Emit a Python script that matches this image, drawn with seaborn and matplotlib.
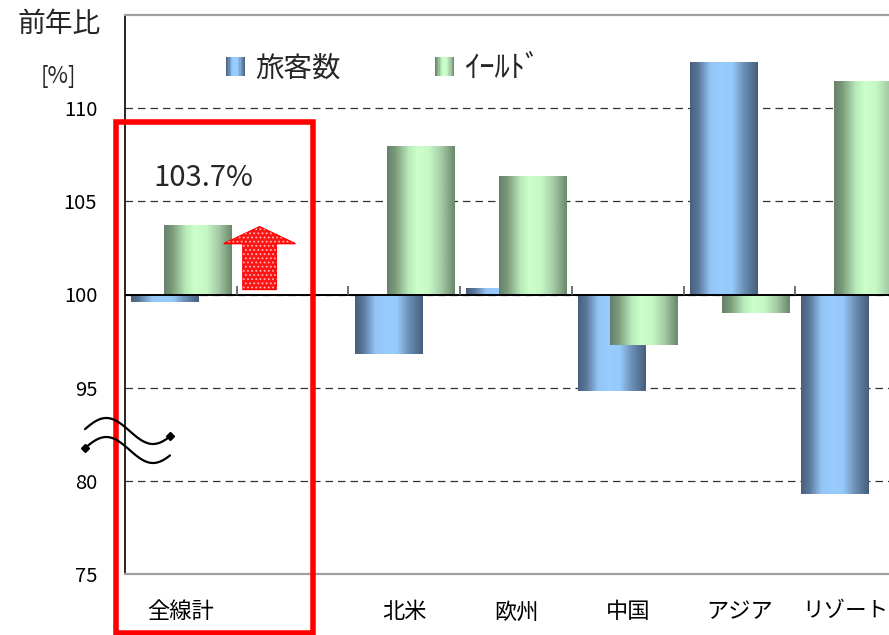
import numpy as np
import pandas as pd
import matplotlib
matplotlib.use("Agg")
import matplotlib.pyplot as plt
import seaborn as sns
from matplotlib.colors import LinearSegmentedColormap
from matplotlib.patches import Rectangle, Patch, FancyArrow
from matplotlib.lines import Line2D
from matplotlib.legend_handler import HandlerBase
from matplotlib.transforms import ScaledTranslation

# 前年比 [%] (値は画像から読み取り)
categories = ['全線計', '', '北米', '欧州', '中国', 'アジア', 'リゾート']
passengers = [99.6, None, 96.8, 100.3, 94.8, 112.4, 79.3]
yields = [103.7, None, 107.9, 106.3, 97.3, 99.0, 111.4]
series_names = ['旅客数', 'ｲｰﾙﾄﾞ']
ytick_values = [75, 80, 95, 100, 105, 110]
highlight_label = '103.7%'

sns.set_theme(style='white')
plt.rcParams['font.family'] = ['Noto Sans CJK JP', 'DejaVu Sans']
plt.rcParams['hatch.linewidth'] = 0.8

blue_cmap = LinearSegmentedColormap.from_list('blue_bar', [
    (0.0, '#485f7c'), (0.12, '#5a7899'), (0.3, '#92c4f5'), (0.45, '#99ccff'),
    (0.62, '#97c9fb'), (0.78, '#6f93ba'), (1.0, '#465e7b')])
green_cmap = LinearSegmentedColormap.from_list('green_bar', [
    (0.0, '#66806a'), (0.12, '#7a9a7a'), (0.32, '#b8eab8'), (0.45, '#ccffcc'),
    (0.62, '#c6f8c6'), (0.8, '#a6cca6'), (1.0, '#6a886a')])


def broken_scale(v):
    # 80〜95 を省略した軸: 80以下は10だけ持ち上げ、100を基準にした差にする
    return (v + 10 if v <= 80 else v) - 100


rows = []
for cat, p, y in zip(categories, passengers, yields):
    if p is not None:
        rows.append({'cat': cat, 'series': series_names[0], 'delta': broken_scale(p)})
    if y is not None:
        rows.append({'cat': cat, 'series': series_names[1], 'delta': broken_scale(y)})
df = pd.DataFrame(rows)

fig = plt.figure(figsize=(8.89, 6.35), dpi=100)
ax = fig.add_axes([125 / 889, 1 - 574 / 635, 782 / 889, 559 / 635])

sns.barplot(data=df, x='cat', y='delta', hue='series', order=categories,
            hue_order=series_names, palette=['#7fa8d4', '#a8dca8'], dodge=True,
            width=0.58, saturation=1, errorbar=None, legend=False, ax=ax, zorder=2)

# 棒を重ねて太くし、グラデーションで塗る
grad = np.linspace(0, 1, 256).reshape(1, -1)
for k, (cont, cmap) in enumerate(zip(ax.containers, [blue_cmap, green_cmap])):
    for bar in cont:
        cx = bar.get_x() + bar.get_width() / 2
        bar.set_width(0.6)
        bar.set_x(cx - 0.3)
        bar.set_edgecolor('none')
        x0, y0 = bar.get_x(), bar.get_y()
        ax.imshow(grad, cmap=cmap, aspect='auto', interpolation='bilinear',
                  extent=[x0, x0 + 0.6, y0, y0 + bar.get_height()],
                  zorder=2.2 + k * 0.1)

ax.set_xlim(-0.5, len(categories) - 0.5)
ax.set_ylim(-15, 15)
ax.set_yticks([broken_scale(v) for v in ytick_values])
ax.set_yticklabels([str(v) for v in ytick_values])
ax.set_xticks(range(len(categories)))
ax.set_xticklabels(categories)
ax.set_xlabel('')
ax.set_ylabel('')
ax.tick_params(axis='y', length=0, pad=20, labelsize=14.5, labelcolor='black')
ax.tick_params(axis='x', length=0, pad=19, labelsize=16, labelcolor='black')

# 右端のラベルは図の端に収める
last = ax.get_xticklabels()[-1]
last.set_fontsize(15.5)
last.set_transform(last.get_transform() + ScaledTranslation(-6 / 100, 0, fig.dpi_scale_trans))

ax.grid(axis='y', linestyle=(0, (6, 4)), color='#333333', linewidth=0.9, zorder=0)
ax.set_axisbelow(True)
ax.axhline(0, color='black', linewidth=1.4, zorder=3)
ax.vlines(np.arange(0.5, len(categories) - 1, 1), 0, 0.45, color='#555555',
          linewidth=1.2, zorder=3)

for side in ['top', 'bottom']:
    ax.spines[side].set_color('#a0a0a0')
    ax.spines[side].set_linewidth(1.6)
ax.spines['left'].set_color('black')
ax.spines['left'].set_linewidth(1.2)
ax.spines['right'].set_visible(False)

# 全線計の上向き矢印
arrow_kw = dict(x=0.705, y=0.27, dx=0, dy=3.37, width=0.30, head_width=0.64,
                head_length=0.91, length_includes_head=True, zorder=4)
ax.add_patch(FancyArrow(facecolor='#ff1414', edgecolor='#ff0000', linewidth=1, **arrow_kw))
ax.add_patch(FancyArrow(facecolor='none', edgecolor='#ffb4b4', hatch='....',
                        linewidth=0, **arrow_kw))

fig.text(203 / 889, 1 - 178 / 635, highlight_label, fontsize=21,
         ha='center', va='center')
fig.text(59 / 889, 1 - 24 / 635, '前年比', fontsize=20, ha='center', va='center')
fig.text(58.5 / 889, 1 - 77 / 635, '[%]', fontsize=16, ha='center', va='center')


class GradientHandler(HandlerBase):
    def __init__(self, cmap):
        super().__init__()
        self.cmap = cmap

    def create_artists(self, legend, orig_handle, xdescent, ydescent, width,
                       height, fontsize, trans):
        n = 16
        arts = []
        for i in range(n):
            arts.append(Rectangle((-xdescent + i * width / n, -ydescent),
                                  width / n * 1.08, height,
                                  facecolor=self.cmap((i + 0.5) / n),
                                  edgecolor='none', transform=trans))
        return arts


h_blue = Patch(label=series_names[0])
h_green = Patch(label=series_names[1])
leg = fig.legend(handles=[h_blue, h_green], labels=series_names,
                 handler_map={h_blue: GradientHandler(blue_cmap),
                              h_green: GradientHandler(green_cmap)},
                 loc='center left', bbox_to_anchor=(226 / 889, 1 - 68 / 635),
                 ncols=2, frameon=False, fontsize=20.5, handlelength=0.68,
                 handleheight=0.68, handletextpad=0.35, columnspacing=3.3,
                 borderpad=0, borderaxespad=0)
leg.get_texts()[1].set_fontsize(22)

# 省略記号 (波線)
px = np.linspace(85, 170, 80)
t = (px - 85) / 85
wave = 431 + 13 * np.cos(2 * np.pi * (t - 0.8) / 1.1)
for off in [0, 19]:
    fig.add_artist(Line2D(px / 889, 1 - (wave + off) / 635, color='black',
                          linewidth=1.6, transform=fig.transFigure))
fig.add_artist(Line2D([px[-1] / 889], [1 - wave[-1] / 635], marker='D',
                      markersize=4, color='black', transform=fig.transFigure))
fig.add_artist(Line2D([px[0] / 889], [1 - (wave[0] + 19) / 635], marker='D',
                      markersize=4, color='black', transform=fig.transFigure))

# 赤枠
fig.add_artist(Rectangle((116 / 889, 1 - 632.5 / 635), 196.5 / 889, 510.5 / 635,
                         fill=False, edgecolor='#ff0000', linewidth=4,
                         transform=fig.transFigure))

fig.savefig('out.png', dpi=100)
